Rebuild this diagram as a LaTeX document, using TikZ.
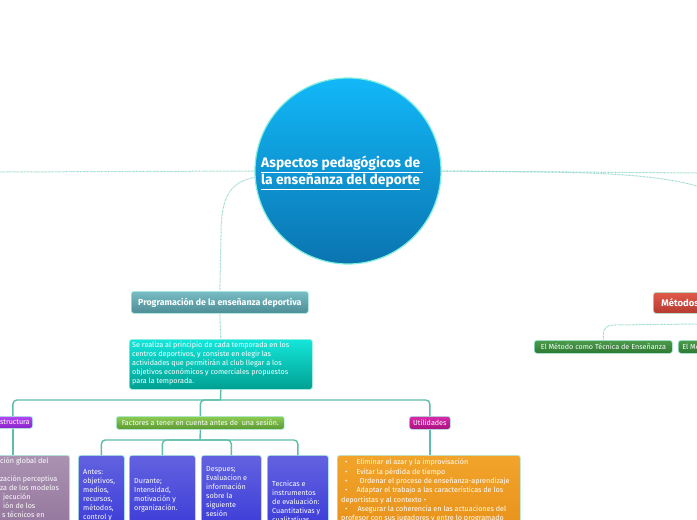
\documentclass[tikz,border=0pt]{standalone}
\usepackage{fontspec}
\setmainfont{Fira Sans}
\usetikzlibrary{calc}
\definecolor{circtop}{HTML}{12B8F8}
\definecolor{circbot}{HTML}{0A74B0}
\definecolor{circb}{HTML}{7FEEDD}
\definecolor{glow}{HTML}{A8F0E2}
\definecolor{progtop}{HTML}{78BCC4}
\definecolor{progbot}{HTML}{4E8E96}
\definecolor{desctop}{HTML}{14E6DA}
\definecolor{descbot}{HTML}{00A092}
\definecolor{treec}{HTML}{5DBDA9}
\definecolor{dotc}{HTML}{8ED6CA}
\definecolor{estrtop}{HTML}{B446F4}
\definecolor{estrbot}{HTML}{8A22C8}
\definecolor{facttop}{HTML}{8ECA52}
\definecolor{factbot}{HTML}{5C9A34}
\definecolor{utiltop}{HTML}{DA2AAA}
\definecolor{utilbot}{HTML}{A81080}
\definecolor{bluetop}{HTML}{6262E0}
\definecolor{bluebot}{HTML}{2E2ED6}
\definecolor{greytop}{HTML}{AA92B2}
\definecolor{greybot}{HTML}{8C6C94}
\definecolor{orgtop}{HTML}{F2A42A}
\definecolor{orgbot}{HTML}{E48C16}
\definecolor{mettop}{HTML}{E25A4A}
\definecolor{metbot}{HTML}{B43A30}
\definecolor{grntop}{HTML}{4C9C4C}
\definecolor{grnbot}{HTML}{2E7832}
\begin{document}
\begin{tikzpicture}[x=1pt,y=-1pt,
  box/.style={rounded corners=2.5pt, draw=glow, line width=0.7pt, inner sep=0pt, anchor=north west, text=white, font=\fontsize{7.2}{9}\selectfont},
  txt/.style={anchor=north west, inner sep=0pt, text=white, align=left, font=\fontsize{7.2}{9}\selectfont},
  dotline/.style={draw=dotc, line width=1pt, dash pattern=on 0.7pt off 0.7pt},
  tree/.style={draw=treec, line width=1.4pt, rounded corners=4pt}]
\useasboundingbox (0,0) rectangle (697,520);
\clip (0,0) rectangle (697,520);
\fill[white] (0,0) rectangle (697,520);

% root
\node[circle, draw=circb, line width=1.2pt, top color=circtop, bottom color=circbot, minimum size=186pt, inner sep=0pt] (root) at (348,171) {};
\node[anchor=north west, inner sep=0pt, text=white, align=left, font=\fontsize{13.8}{14.5}\selectfont\bfseries] (title) at (261,156) {\underline{Aspectos pedagógicos de }\\\underline{la enseñanza del deporte}};

% left branch
\node[box, minimum width=177pt, minimum height=22pt, top color=progtop, bottom color=progbot, font=\fontsize{8.8}{10}\selectfont\bfseries] (prog) at (131,291) {Programación de la enseñanza deportiva};
\node[box, minimum width=183pt, minimum height=50pt, top color=desctop, bottom color=descbot] (desc) at (129,339) {};
\node[txt] (desctxt) at (132,342) {Se realiza al principio de cada temporada en los\\centros deportivos, y consiste en elegir las\\actividades que permitirán al club llegar a los\\objetivos económicos y comerciales propuestos\\para la temporada.};

\node[box, anchor=north east, minimum height=12pt, inner xsep=3pt, top color=estrtop, bottom color=estrbot] (estr) at (33,416) {Estructura};
\node[box, minimum width=168pt, minimum height=13pt, top color=facttop, bottom color=factbot] (fact) at (116,416) {Factores a tener en cuenta antes de\ \ una sesión.};
\node[box, minimum width=41pt, minimum height=13pt, top color=utiltop, bottom color=utilbot] (util) at (409,416) {Utilidades};

\node[box, anchor=north east, minimum width=120pt, minimum height=100pt, top color=greytop, bottom color=greybot] (grey) at (70,455) {};
\node[txt] (greytxt) at (0,458) {ción global del\\[9pt]zación perceptiva\\za de los modelos\\\hspace*{3pt}jecución\\\hspace*{3pt}ión de los\\\hspace*{2pt}s técnicos en};

\node[box, minimum width=46pt, minimum height=100pt, top color=bluetop, bottom color=bluebot] (b1) at (78,455) {};
\node[box, minimum width=66pt, minimum height=100pt, top color=bluetop, bottom color=bluebot] (b2) at (129,455) {};
\node[box, minimum width=60pt, minimum height=100pt, top color=bluetop, bottom color=bluebot] (b3) at (201,455) {};
\node[box, minimum width=61pt, minimum height=100pt, top color=bluetop, bottom color=bluebot] (b4) at (267,455) {};
\node[txt] (t1) at (83,469) {Antes:\\objetivos,\\medios,\\recursos,\\métodos,\\control y};
\node[txt] (t2) at (134,478) {Durante;\\Intensidad,\\motivación y\\organización.};
\node[txt] (t3) at (206,466) {Despues;\\Evaluacion e\\información\\sobre la\\siguiente\\sesión};
\node[txt] (t4) at (272,481) {Tecnicas e\\instrumentos\\de evaluación:\\Cuantitativas y\\cualitativas};

\node[box, minimum width=183pt, minimum height=100pt, top color=orgtop, bottom color=orgbot] (org) at (337,455) {};
\node[txt, font=\fontsize{7.2}{9.3}\selectfont] (orgtxt) at (341,459) {\hspace*{4pt}•\hspace{9pt}Eliminar el azar y la improvisación\\\hspace*{4pt}•\hspace{9pt}Evitar la pérdida de tiempo\\\hspace*{4pt}•\hspace{12pt}Ordenar el proceso de enseñanza-aprendizaje\\\hspace*{4pt}•\hspace{9pt}Adaptar el trabajo a las características de los\\deportistas y al contexto •\\\hspace*{4pt}•\hspace{10pt}Asegurar la coherencia en las actuaciones del\\profesor con sus jugadores y entre lo programado};

% right branch
\node[box, minimum height=21pt, inner xsep=8pt, top color=mettop, bottom color=metbot, font=\fontsize{9.5}{11}\selectfont\bfseries] (met) at (653,292) {Métodos};
\node[box, minimum width=138pt, minimum height=13pt, top color=grntop, bottom color=grnbot] (m1) at (534,340) {El Método como Técnica de Enseñanza};
\node[box, minimum height=13pt, inner xsep=4pt, top color=grntop, bottom color=grnbot] (m2) at (678,340) {El Método};

% dotted connectors
\coordinate (lend) at (0,172);
\coordinate (rend) at (697,173);
\coordinate (rend2) at (697,186);
\coordinate (mend) at (697,324);
\draw[dotline] (root.180) -- (lend);
\draw[dotline] (root.0) -- (rend);
\draw[dotline] (root.0) -- (545,172) .. controls (620,173) and (665,177) .. (rend2);
\draw[dotline] (root.184) .. controls (228,182) and (221,200) .. (221,235) -- (prog.north);
\draw[dotline] (prog.south) -- (desc.north);
\draw[dotline] (mend) -- (615,325) .. controls (604,325) and (603,330) .. (m1.north);

% tree connectors
\coordinate (bus) at (220.5,400);
\coordinate (bus2) at (200,440);
\draw[tree] (desc.south) -- (bus);
\draw[tree] (bus) -| (estr.north);
\draw[tree] (bus) -| (fact.north);
\draw[tree] (bus) -| (util.north);
\draw[tree] (estr.south) -- (estr.south |- grey.north);
\draw[tree] (util.south) -- (util.south |- org.north);
\draw[tree] (fact.south) -- (bus2);
\draw[tree] (bus2) -| (b1.north);
\draw[tree] (bus2) -| (b2.north);
\draw[tree] (bus2) -| (b3.north);
\draw[tree] (bus2) -| (b4.north);
\end{tikzpicture}
\end{document}
